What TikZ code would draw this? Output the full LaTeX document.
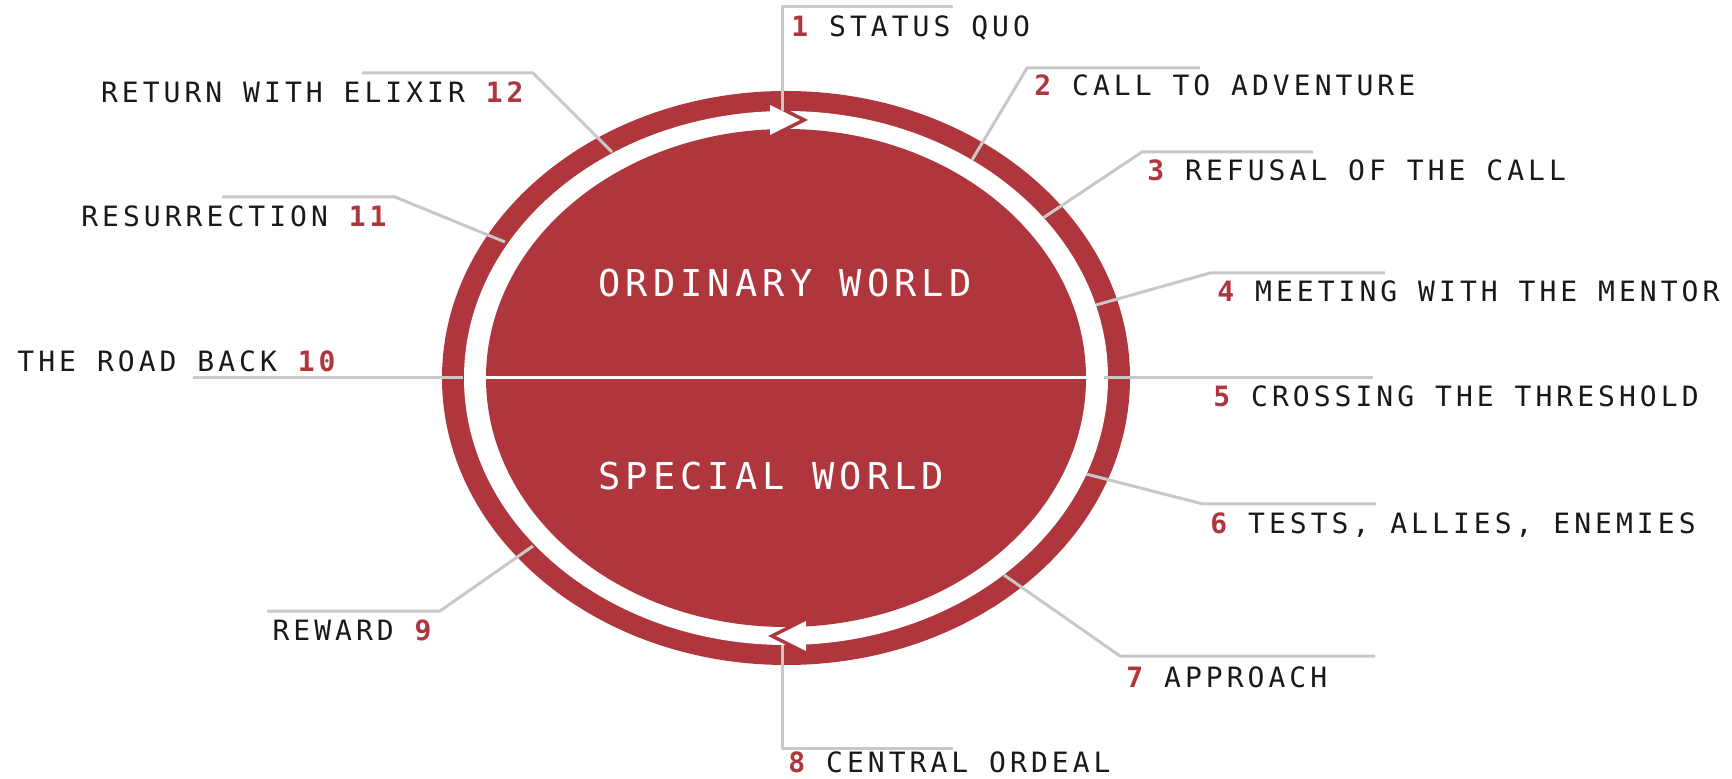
\documentclass[tikz,border=0pt]{standalone}
\usepackage{fontspec}
\newfontfamily\stagefont[LetterSpace=14.4]{DejaVu Sans Mono}
\newfontfamily\worldfont[LetterSpace=13.8]{DejaVu Sans Mono}
\definecolor{journeyred}{HTML}{B0363E}
\definecolor{leadgray}{HTML}{C8C8C8}
\tikzset{
	leader/.style={draw=leadgray, line width=1.5pt},
	stage/.style={font=\stagefont\fontsize{14pt}{16pt}\selectfont, text=black!90, inner sep=0pt},
	world/.style={font=\worldfont\fontsize{18.5pt}{20pt}\selectfont, text=white, inner sep=0pt, anchor=base west},
}
\newcommand{\stepno}[1]{{\color{journeyred}\bfseries #1}}

\begin{document}
\begin{tikzpicture}[x=0.5pt, y=-0.5pt, line join=round]
	\useasboundingbox (0,0) rectangle (1732,779);

	% === RING ===
	\coordinate (c) at (786,378);
	\fill[journeyred] (c) ellipse [x radius=344, y radius=287];
	\fill[white] (c) ellipse [x radius=322, y radius=267];
	\fill[journeyred] (c) ellipse [x radius=300, y radius=249];
	\draw[white, line width=1.5pt] (486,378) -- (1086,378);

	% arrow heads in the white ring
	\fill[journeyred] (778,105) -- (808,120) -- (778,135) -- cycle;
	\fill[white] (770,105) -- (800,120) -- (770,135) -- cycle;
	\fill[journeyred] (798,621) -- (768,636) -- (798,651) -- cycle;
	\fill[white] (806,621) -- (776,636) -- (806,651) -- cycle;

	\node[world] (ordinary) at (598,297) {ORDINARY WORLD};
	\node[world] (special) at (598,490) {SPECIAL WORLD};

	% === LEADERS ===
	\foreach \n/\rx/\ry/\kx/\ky/\ex in {
		1/782/111/782/7/953, 2/972/160/1027/68/1200, 3/1043/218/1142/152/1313,
		4/1096/305/1210/273/1385, 5/1104/378/1200/378/1373, 6/1086/474/1203/504/1376,
		7/1004/575/1120/656/1375, 8/782/645/782/748/953, 9/533/546/440/611/267,
		10/463/378/380/378/193, 11/505/242/395/197/222, 12/612/152/533/73/362
	} {
		\coordinate (r\n) at (\rx,\ry);
		\coordinate (k\n) at (\kx,\ky);
		\coordinate (e\n) at (\ex,\ky);
		\draw[leader] (r\n) -- (k\n) -- (e\n);
	}

	% === STAGES ===
	\node[stage, anchor=base west] (l1) at (791,37) {\stepno{1} STATUS QUO};
	\node[stage, anchor=base west] (l2) at (1034,96) {\stepno{2} CALL TO ADVENTURE};
	\node[stage, anchor=base west] (l3) at (1147,181) {\stepno{3} REFUSAL OF THE CALL};
	\node[stage, anchor=base west] (l4) at (1217,302) {\stepno{4} MEETING WITH THE MENTOR};
	\node[stage, anchor=base west] (l5) at (1213,407) {\stepno{5} CROSSING THE THRESHOLD};
	\node[stage, anchor=base west] (l6) at (1210,533) {\stepno{6} TESTS, ALLIES, ENEMIES};
	\node[stage, anchor=base west] (l7) at (1126,687) {\stepno{7} APPROACH};
	\node[stage, anchor=base west] (l8) at (788,772) {\stepno{8} CENTRAL ORDEAL};
	\node[stage, anchor=base east] (l9) at (432,640) {REWARD \stepno{9}};
	\node[stage, anchor=base east] (l10) at (336,372) {THE ROAD BACK \stepno{10}};
	\node[stage, anchor=base east] (l11) at (387,227) {RESURRECTION \stepno{11}};
	\node[stage, anchor=base east] (l12) at (524,103) {RETURN WITH ELIXIR \stepno{12}};
\end{tikzpicture}
\end{document}
